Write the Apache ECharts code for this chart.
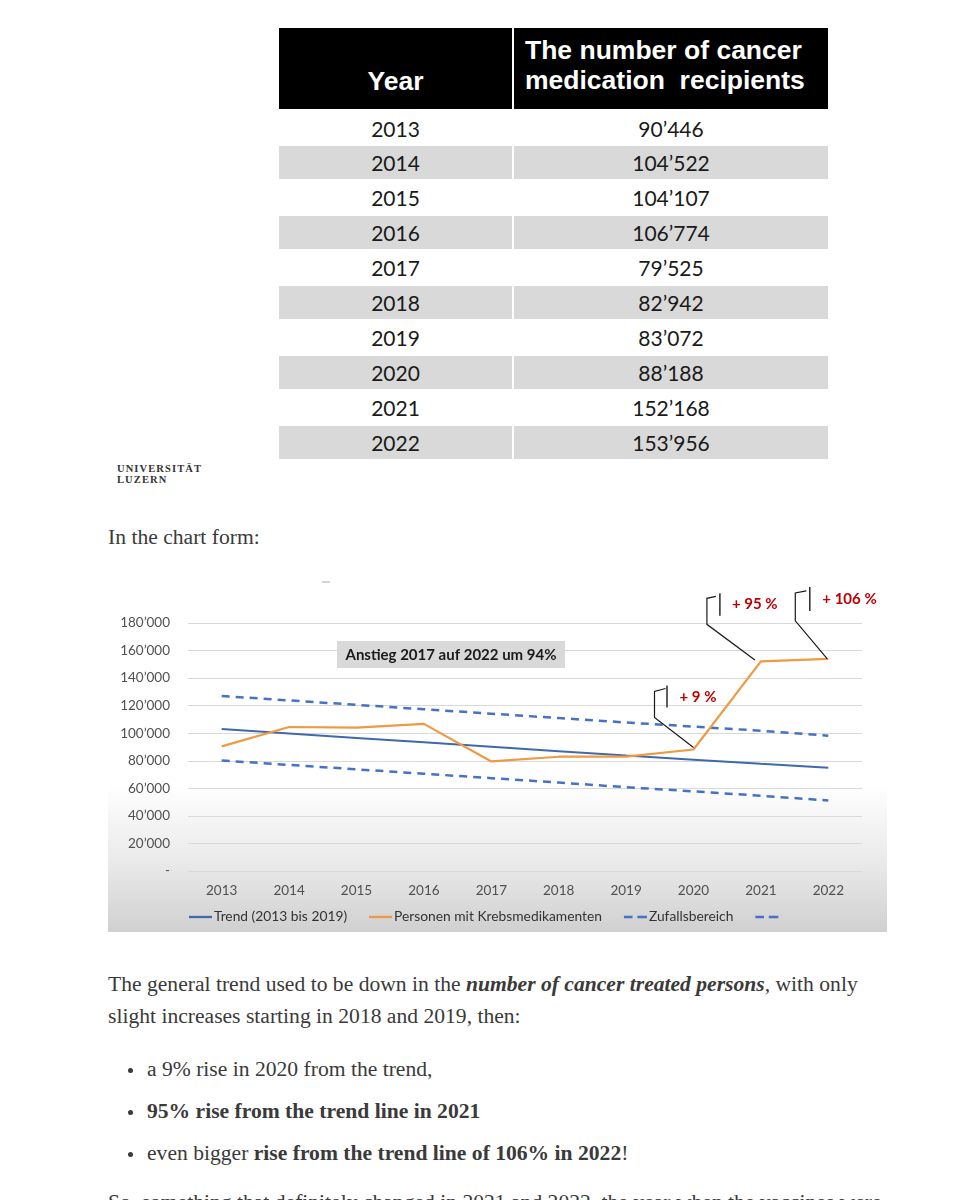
<!DOCTYPE html>
<html>
<head>
<meta charset="utf-8">
<script src="https://cdn.jsdelivr.net/npm/echarts@6/dist/echarts.min.js"></script>
<style>
  html, body { margin:0; padding:0; background:#fff; }
  body { width:959px; height:1200px; position:relative; overflow:hidden; }
  .abs { position:absolute; }
  .serif { font-family:"Liberation Serif", "DejaVu Serif", serif; font-size:21.6px; color:#3a3a3a; white-space:nowrap; }
  #tbl { position:absolute; left:279px; top:28px; width:549px; }
  .hdr { position:absolute; top:0; background:#000; color:#fff;
         font-family:"Liberation Sans", Arial, sans-serif; font-weight:bold; font-size:26.5px; line-height:30px; }
  .cell { position:absolute; height:33px; line-height:33px; text-align:center;
          font-family:Lato, "Open Sans", sans-serif; font-size:21px; color:#1a1a1a; }
  .logo { font-family:"Liberation Serif", serif; font-weight:bold; font-size:10.5px; letter-spacing:1.1px; color:#333; line-height:11px; }
  .dot { position:absolute; width:5px; height:5px; border-radius:50%; background:#3a3a3a; }
</style>
</head>
<body>
<div id="tbl"></div>
<div class="abs logo" style="left:117px; top:463px;">UNIVERSITÄT<br>LUZERN</div>
<div class="abs serif" style="left:108px; top:524px; line-height:26px;">In the chart form:</div>
<div id="chart" class="abs" style="left:108px; top:578px; width:779px; height:354px;"></div>
<div class="abs serif" style="left:108px; top:968px; line-height:32px;">The general trend used to be down in the <b><i>number of cancer treated persons</i></b>, with only<br>slight increases starting in 2018 and 2019, then:</div>
<div class="dot" style="left:128px; top:1068px;"></div>
<div class="abs serif" style="left:147px; top:1053px; line-height:32px;">a 9% rise in 2020 from the trend,</div>
<div class="dot" style="left:128px; top:1110px;"></div>
<div class="abs serif" style="left:147px; top:1095px; line-height:32px;"><b>95% rise from the trend line in 2021</b></div>
<div class="dot" style="left:128px; top:1152px;"></div>
<div class="abs serif" style="left:147px; top:1137px; line-height:32px;">even bigger <b>rise from the trend line of 106% in 2022</b>!</div>
<div class="abs serif" style="left:108px; top:1186px; line-height:32px;">So, something that definitely changed in 2021 and 2022, the year when the vaccines were</div>
<script>
// ---- data ----
const years = ['2013','2014','2015','2016','2017','2018','2019','2020','2021','2022'];
const recipients = [90446, 104522, 104107, 106774, 79525, 82942, 83072, 88188, 152168, 153956];
const trend = [103000, 99800, 96600, 93400, 90200, 87000, 83800, 80800, 77800, 74900];
const upperBand = [127000, 123800, 120600, 117400, 114200, 111000, 107800, 104800, 101800, 98200];
const lowerBand = [80200, 77000, 73800, 70600, 67400, 64200, 60800, 57800, 54600, 51200];
const tableHeaders = ['Year', 'The number of cancer<br>medication&nbsp; recipients'];
const seriesNames = ['Trend (2013 bis 2019)', 'Personen mit Krebsmedikamenten', 'Zufallsbereich', ' '];
const noteText = 'Anstieg 2017 auf 2022 um 94%';
const calloutLabels = ['+ 9 %', '+ 95 %', '+ 106 %'];
const calloutIndex = [7, 8, 9];

function fmt(v) {
  return String(v).replace(/\B(?=(\d{3})+(?!\d))/g, '\u2019');
}

// ---- table ----
(function buildTable() {
  const t = document.getElementById('tbl');
  const c1w = 233, c2x = 235, c2w = 314;
  let h = '';
  h += '<div class="hdr" style="left:0;width:' + c1w + 'px;height:81px;"><div style="position:absolute;left:0;right:0;top:38px;text-align:center;">' + tableHeaders[0] + '</div></div>';
  h += '<div class="hdr" style="left:' + c2x + 'px;width:' + c2w + 'px;height:81px;"><div style="position:absolute;left:11px;top:7px;white-space:nowrap;">' + tableHeaders[1] + '</div></div>';
  const rowH = 34.9, top0 = 83.5;
  years.forEach((y, i) => {
    const top = top0 + i * rowH;
    const bg = (i % 2 === 1) ? '#d9d9d9' : 'transparent';
    h += '<div class="cell" style="left:0;width:' + c1w + 'px;top:' + top + 'px;background:' + bg + ';">' + y + '</div>';
    h += '<div class="cell" style="left:' + c2x + 'px;width:' + c2w + 'px;top:' + top + 'px;background:' + bg + ';">' + fmt(recipients[i]) + '</div>';
  });
  t.innerHTML = h;
})();

// ---- chart ----
const chart = echarts.init(document.getElementById('chart'), null, { renderer: 'canvas' });
const blueDark = '#4068ad', blueLight = '#4472c4', orange = '#ee9a42';
const fontFam = 'Lato, "Open Sans", sans-serif';
const solidIcon = 'path://M0,0h24v2.4h-24z';
const dashIcon = 'path://M0,0h9v2.4h-9z M14,0h10v2.4h-10z';

chart.setOption({
  animation: false,
  backgroundColor: {
    type: 'linear', x: 0, y: 0, x2: 0, y2: 1,
    colorStops: [
      { offset: 0, color: '#ffffff' },
      { offset: 0.58, color: '#ffffff' },
      { offset: 0.8, color: '#eaeaea' },
      { offset: 1, color: '#d0d0d0' }
    ]
  },
  grid: { left: 80, right: 25, top: 45, bottom: 61, containLabel: false },
  xAxis: {
    type: 'category', data: years, boundaryGap: true,
    axisLine: { show: false }, axisTick: { show: false },
    axisLabel: { color: '#505050', fontFamily: fontFam, fontSize: 13.5, margin: 13 }
  },
  yAxis: {
    type: 'value', min: 0, max: 180000, interval: 20000,
    axisLine: { show: false }, axisTick: { show: false },
    splitLine: { lineStyle: { color: '#d9d9d9', width: 1 } },
    axisLabel: {
      color: '#505050', fontFamily: fontFam, fontSize: 13.5, margin: 18,
      formatter: v => v === 0 ? '-' : fmt(v)
    }
  },
  legend: {
    left: 76, top: 327, itemWidth: 23, itemHeight: 2.4, itemGap: 22,
    textStyle: { color: '#333333', fontFamily: fontFam, fontSize: 13.8, padding: [0, 0, 0, -3] },
    data: [
      { name: seriesNames[0], icon: solidIcon },
      { name: seriesNames[1], icon: solidIcon },
      { name: seriesNames[2], icon: dashIcon },
      { name: seriesNames[3], icon: dashIcon }
    ]
  },
  series: [
    { name: seriesNames[0], type: 'line', data: trend, symbol: 'none', z: 3,
      lineStyle: { color: blueDark, width: 2 }, itemStyle: { color: blueDark } },
    { name: seriesNames[1], type: 'line', data: recipients, symbol: 'none', z: 4,
      lineStyle: { color: orange, width: 2.2 }, itemStyle: { color: orange } },
    { name: seriesNames[2], type: 'line', data: upperBand, symbol: 'none', z: 2,
      lineStyle: { color: blueLight, width: 2.5, type: [8, 6] }, itemStyle: { color: blueLight } },
    { name: seriesNames[3], type: 'line', data: lowerBand, symbol: 'none', z: 2,
      lineStyle: { color: blueLight, width: 2.5, type: [8, 6] }, itemStyle: { color: blueLight } }
  ]
});

// ---- annotations (anchored to data points) ----
const shapes = [
  { a: [0, -2], p1: [-39, -32], p2: [-39, -58], p3: [-28, -61], bar: [-26.5, -64, -42], t: [-14, -52] },
  { a: [-6, -1.4], p1: [-54, -37], p2: [-54, -63], p3: [-45, -65], bar: [-41, -68, -45.5], t: [-29, -57] },
  { a: [-1, 0], p1: [-33, -38], p2: [-33, -66], p3: [-22, -68], bar: [-18.5, -72, -48], t: [-6, -60] }
];
const gfx = [
  { type: 'line', shape: { x1: 214, y1: 4, x2: 222, y2: 4 }, style: { stroke: '#aaa', lineWidth: 1 } },
  { type: 'rect', shape: { x: 229, y: 63, width: 228, height: 27 }, style: { fill: '#d9d9d9' } },
  { type: 'text', x: 343, y: 77, style: { text: noteText, fill: '#1a1a1a', font: 'bold 15px ' + fontFam, align: 'center', verticalAlign: 'middle' } }
];
calloutIndex.forEach((idx, k) => {
  const pt = chart.convertToPixel({ xAxisIndex: 0, yAxisIndex: 0 }, [idx, recipients[idx]]);
  const s = shapes[k];
  const P = d => [pt[0] + d[0], pt[1] + d[1]];
  gfx.push({ type: 'polyline', z: 10, shape: { points: [P(s.a), P(s.p1), P(s.p2), P(s.p3)] },
             style: { stroke: '#1a1a1a', lineWidth: 1.2, fill: null } });
  gfx.push({ type: 'line', z: 10, shape: { x1: pt[0] + s.bar[0], y1: pt[1] + s.bar[1], x2: pt[0] + s.bar[0], y2: pt[1] + s.bar[2] },
             style: { stroke: '#1a1a1a', lineWidth: 1.4 } });
  gfx.push({ type: 'text', z: 10, x: pt[0] + s.t[0], y: pt[1] + s.t[1],
             style: { text: calloutLabels[k], fill: '#c00000', font: 'bold 15px ' + fontFam, align: 'left', verticalAlign: 'middle' } });
});
chart.setOption({ graphic: gfx });
</script>
</body>
</html>
